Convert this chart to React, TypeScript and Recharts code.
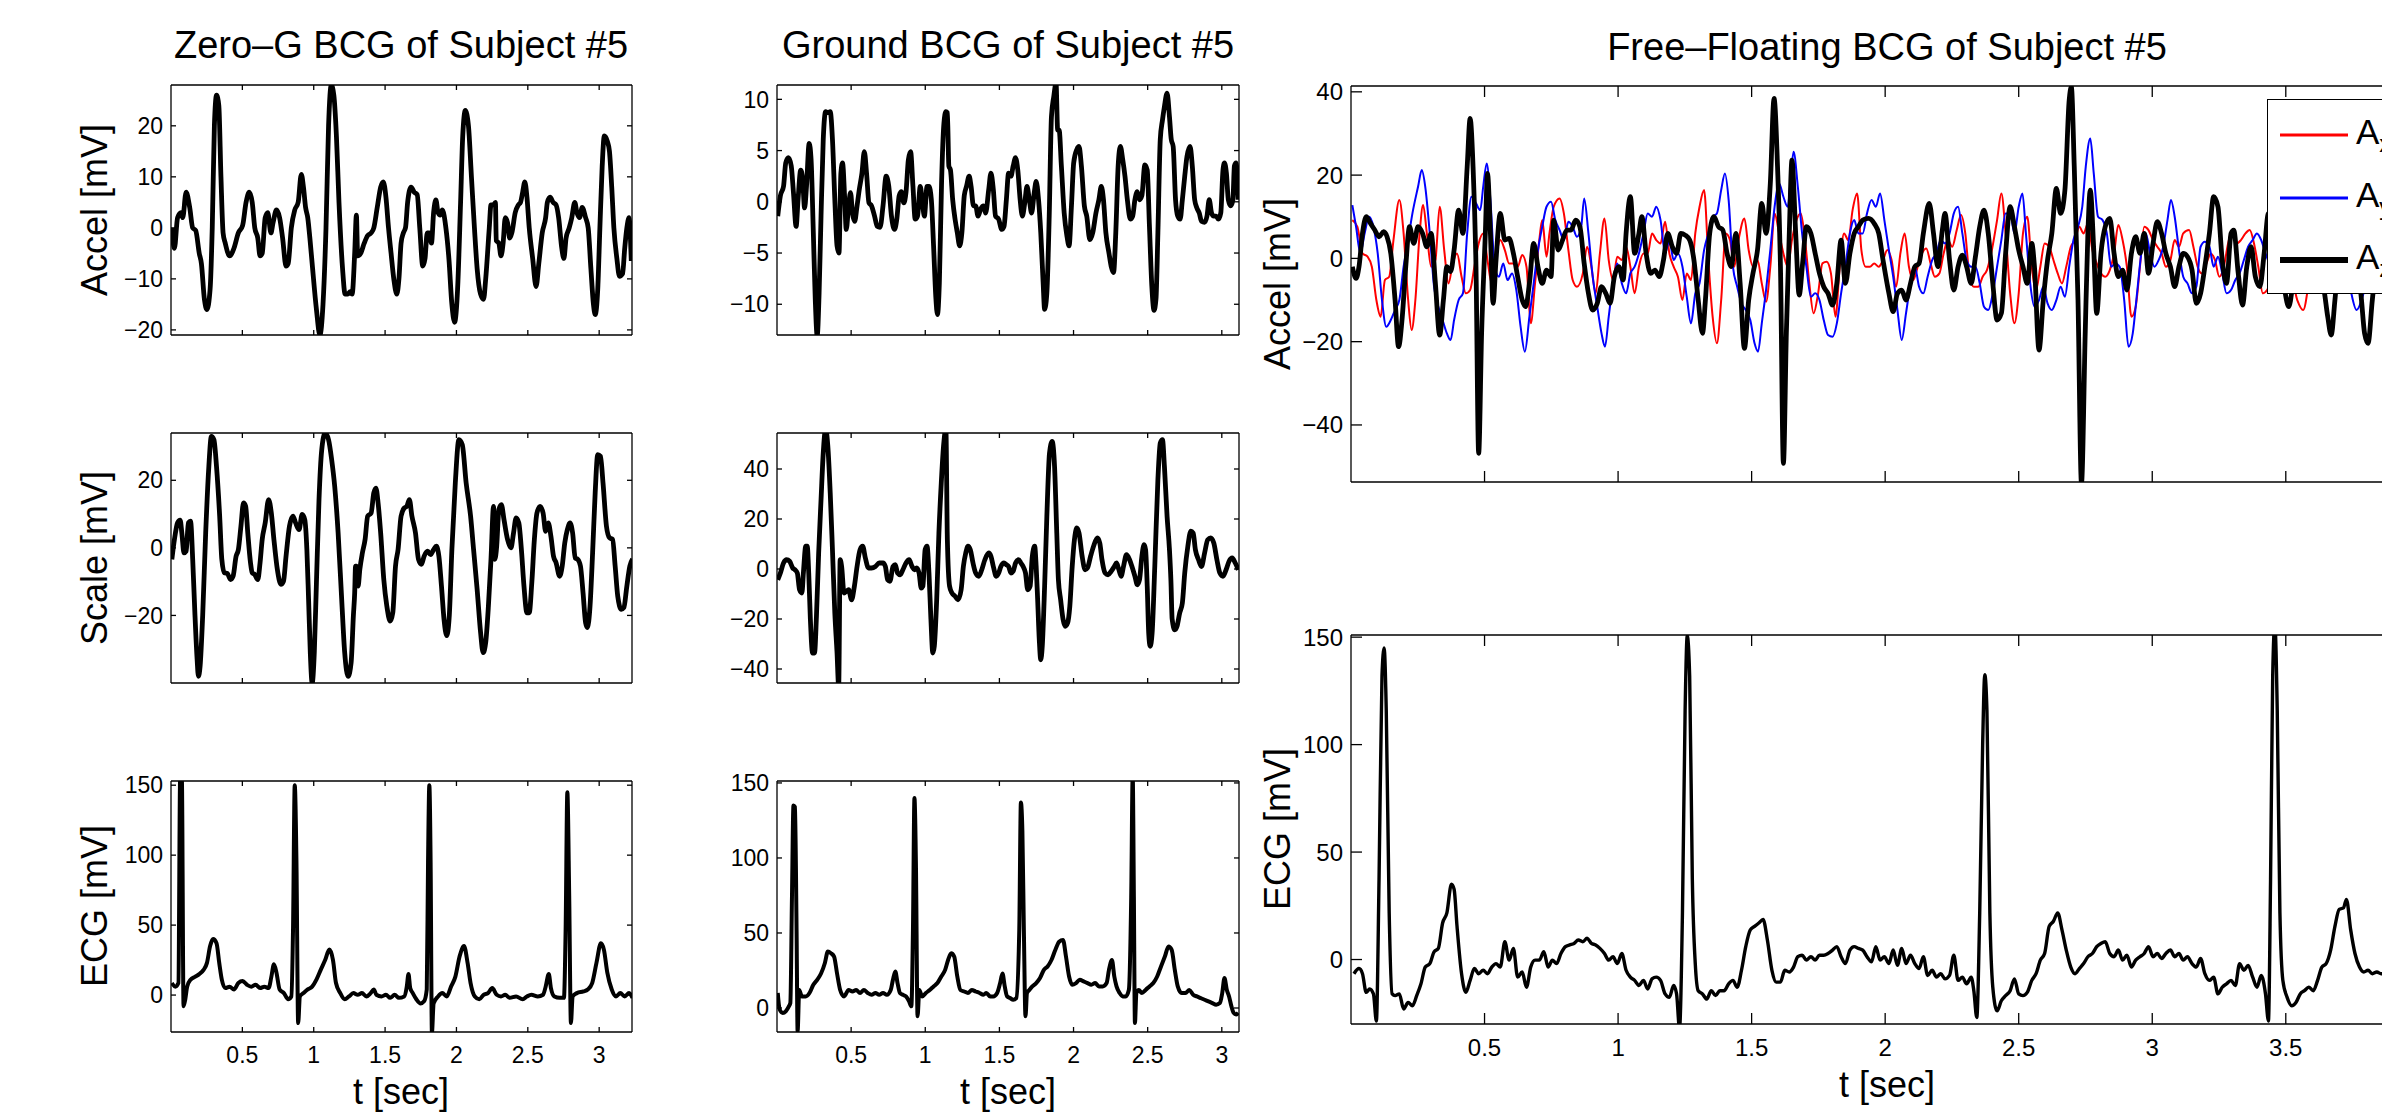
import { LineChart, Line, XAxis, YAxis, Legend } from 'recharts'

// ---- data: [t (sec), value (mV)] ----

const zeroGAccel: [number, number][] = [
  [0.006, 0], [0.024, -4], [0.046, 2], [0.07, 3], [0.082, 2], [0.106, 7], [0.131, 4], [0.152, 0], [0.173, -0.5],
  [0.198, -5], [0.213, -7], [0.234, -14], [0.252, -16], [0.274, -12], [0.289, 0], [0.304, 20], [0.319, 26],
  [0.335, 24], [0.35, 10], [0.365, -1], [0.38, -3], [0.411, -5.5], [0.441, -4], [0.472, -1], [0.502, 0.5],
  [0.526, 5], [0.548, 7], [0.569, 5], [0.587, 0], [0.608, -2], [0.624, -5.5], [0.639, -5], [0.66, 2], [0.678, 3],
  [0.7, -1], [0.715, 1], [0.739, 3.5], [0.761, 2], [0.782, -2], [0.806, -7.5], [0.821, -7], [0.843, 0],
  [0.867, 3.5], [0.891, 5], [0.913, 10.5], [0.928, 8], [0.943, 4], [0.958, 2], [0.973, -2], [0.989, -7],
  [1.019, -16], [1.043, -21], [1.065, -15], [1.086, 0], [1.104, 20], [1.123, 28], [1.141, 26], [1.159, 18],
  [1.177, 5], [1.202, -8], [1.22, -13], [1.238, -13], [1.256, -12.5], [1.269, -13], [1.287, -5], [1.299, 2.5],
  [1.308, -5.5], [1.329, -5], [1.354, -3], [1.378, -1.5], [1.402, -1], [1.421, 0], [1.445, 4], [1.469, 8],
  [1.488, 9], [1.506, 6], [1.524, 0], [1.542, -5], [1.561, -10], [1.582, -13], [1.597, -10], [1.612, -3],
  [1.628, -1], [1.643, 0], [1.658, 5], [1.682, 8], [1.704, 7], [1.725, 6.5], [1.743, 0], [1.764, -7.5],
  [1.78, -6], [1.795, -1], [1.81, -1], [1.825, -3], [1.84, 3], [1.856, 5.5], [1.871, 3], [1.886, 2.5],
  [1.901, 3.5], [1.926, 0], [1.947, -6], [1.968, -15], [1.987, -18.5], [2.008, -12], [2.029, 5], [2.044, 18],
  [2.062, 23], [2.084, 20], [2.105, 10], [2.126, 0], [2.145, -8], [2.169, -13], [2.19, -14], [2.205, -10],
  [2.23, 0], [2.242, 4.5], [2.26, 4.5], [2.273, 5], [2.279, -2.5], [2.297, -3], [2.312, -5.5], [2.327, -3],
  [2.342, 2], [2.358, 1], [2.373, -2], [2.388, -1], [2.412, 3], [2.434, 4.5], [2.449, 5], [2.464, 7],
  [2.479, 9], [2.494, 6], [2.51, 0], [2.534, -6], [2.558, -11.5], [2.577, -7], [2.601, -1], [2.625, 2],
  [2.637, 5], [2.656, 6], [2.677, 5], [2.698, 4.5], [2.716, 2], [2.738, -4], [2.753, -6], [2.768, -2],
  [2.79, 0], [2.808, 2], [2.829, 5], [2.844, 3], [2.863, 2], [2.881, 4], [2.905, 2], [2.923, 0], [2.942, -8],
  [2.96, -15], [2.972, -17], [2.99, -12], [3.005, 0], [3.021, 12], [3.036, 18], [3.057, 17], [3.072, 15],
  [3.088, 8], [3.103, 0], [3.124, -6], [3.142, -9.5], [3.164, -9], [3.179, -4], [3.194, 0], [3.209, 2], [3.225, -6.5],
]

const zeroGScale: [number, number][] = [
  [0.006, -3.4], [0.024, 2.5], [0.046, 7.4], [0.064, 8.2], [0.076, 4.4], [0.091, -1.5], [0.106, -1], [0.122, 7.4],
  [0.137, 7.9], [0.152, -3.4], [0.167, -19], [0.183, -33], [0.192, -38], [0.204, -35], [0.222, -20], [0.243, 4.4],
  [0.265, 24], [0.283, 33], [0.301, 32], [0.319, 24], [0.341, 9.4], [0.356, -3.4], [0.374, -7.4], [0.395, -7.6],
  [0.417, -9.4], [0.435, -8.4], [0.456, -2.5], [0.472, -0.5], [0.49, 6.4], [0.508, 13.3], [0.523, 12.3],
  [0.538, 4.4], [0.557, -4.4], [0.569, -7.4], [0.587, -7.9], [0.608, -9.4], [0.624, -4.4], [0.639, 2.5],
  [0.66, 7.4], [0.684, 14.3], [0.703, 10.3], [0.721, 2.5], [0.745, -6.4], [0.77, -10.8], [0.788, -9.9],
  [0.806, -2.5], [0.83, 6.4], [0.855, 9.4], [0.873, 7.4], [0.897, 5.4], [0.919, 9.9], [0.937, 8.4], [0.952, -0.5],
  [0.964, -15.3], [0.976, -31], [0.989, -40], [1.004, -31], [1.019, -10.3], [1.037, 14.3], [1.056, 29],
  [1.08, 34], [1.104, 32], [1.126, 26], [1.147, 18.2], [1.171, 4.4], [1.196, -15.3], [1.217, -31], [1.241, -38],
  [1.262, -34], [1.278, -20], [1.287, -13.3], [1.293, -5.4], [1.299, -5.4], [1.311, -11.3], [1.323, -6.4],
  [1.341, -1.5], [1.36, 2.5], [1.378, 9.4], [1.402, 10.3], [1.421, 16.3], [1.436, 17.7], [1.451, 13.3],
  [1.469, 4.4], [1.491, -9.4], [1.512, -17.2], [1.536, -21.7], [1.554, -19.2], [1.573, -5.4], [1.591, -0.5],
  [1.612, 9.4], [1.634, 11.8], [1.652, 12.3], [1.67, 14.3], [1.688, 9.4], [1.713, 4.4], [1.734, -3.4],
  [1.755, -4.9], [1.773, -2.5], [1.798, -1], [1.819, -2], [1.84, -0.5], [1.859, 0.5], [1.877, -2.5],
  [1.895, -11.3], [1.913, -21.2], [1.932, -26], [1.95, -20], [1.968, -0.5], [1.992, 19.2], [2.017, 32],
  [2.041, 30.5], [2.068, 19.2], [2.099, 9.4], [2.12, -0.5], [2.145, -12.3], [2.169, -25], [2.187, -31],
  [2.205, -28], [2.224, -17.2], [2.242, -3.4], [2.26, 12.3], [2.269, -3.4], [2.282, 0.5], [2.297, 11.3],
  [2.315, 12.8], [2.333, 8.4], [2.358, 2.5], [2.382, 0], [2.4, 4.4], [2.418, 8.9], [2.437, 7.4], [2.455, -0.5],
  [2.473, -11.3], [2.494, -19.2], [2.51, -19.2], [2.528, -10.3], [2.546, 2.5], [2.564, 10.3], [2.586, 12.3],
  [2.607, 10.3], [2.625, 4.9], [2.643, 7.4], [2.662, 3.4], [2.68, -2.5], [2.698, -4.4], [2.723, -8.4],
  [2.741, -5.4], [2.759, 1.5], [2.777, 5.4], [2.796, 7.4], [2.814, 4.4], [2.832, -3], [2.85, -3.4], [2.869, -5.4],
  [2.887, -13.3], [2.905, -22.2], [2.917, -23.6], [2.936, -17.2], [2.954, -1.5], [2.972, 16.3], [2.99, 27.6],
  [3.009, 27.1], [3.027, 19.2], [3.051, 6.4], [3.072, 3], [3.094, 2.5], [3.112, -5.4], [3.13, -14.3],
  [3.155, -18.2], [3.173, -17.7], [3.194, -11.3], [3.215, -5.4], [3.234, -3.3],
]

const zeroGEcg: [number, number][] = [
  [0.006, 8.6], [0.03, 6], [0.052, 8.6], [0.064, 154], [0.076, 154], [0.088, -8], [0.1, -3], [0.113, 6],
  [0.137, 11], [0.167, 13], [0.198, 15], [0.228, 18], [0.252, 23], [0.274, 35], [0.295, 40], [0.319, 37],
  [0.338, 23], [0.356, 11], [0.38, 5], [0.411, 6], [0.441, 4], [0.472, 8.6], [0.502, 10], [0.532, 7.4],
  [0.563, 6], [0.593, 7.4], [0.624, 5], [0.654, 6], [0.684, 5], [0.703, 13], [0.721, 22], [0.739, 16],
  [0.761, 4], [0.791, 1.4], [0.821, -3], [0.843, -1], [0.855, 47], [0.867, 150], [0.879, 95], [0.891, -20],
  [0.903, -1], [0.928, 1.4], [0.958, 4], [0.989, 6], [1.019, 11], [1.049, 18], [1.08, 25], [1.11, 32.5],
  [1.135, 25], [1.156, 8.6], [1.186, 1.4], [1.217, -3], [1.247, -1], [1.278, 1.4], [1.308, 0.2], [1.338, 1.4],
  [1.369, -1], [1.399, 1.4], [1.421, 4], [1.439, 0.2], [1.475, -1], [1.506, 0.2], [1.536, -2], [1.567, 0.2],
  [1.597, -2], [1.634, -1], [1.652, 6], [1.664, 15], [1.676, 5], [1.694, 1.4], [1.719, -3], [1.749, -6],
  [1.773, -4.5], [1.792, 4], [1.801, 95], [1.81, 150], [1.819, 95], [1.828, -27], [1.84, -6], [1.871, -1],
  [1.901, 1.4], [1.932, -1], [1.962, 6], [1.992, 13], [2.023, 28], [2.053, 35], [2.078, 23], [2.099, 8.6],
  [2.129, -1], [2.16, -3], [2.19, 0.2], [2.221, 1.4], [2.251, 5], [2.282, 0.2], [2.312, -1], [2.342, 0.2],
  [2.373, -2], [2.418, -1], [2.464, -3], [2.494, -1], [2.525, 0.2], [2.57, -1], [2.607, 0.2], [2.625, 6],
  [2.647, 15], [2.662, 5], [2.686, -1], [2.723, -2], [2.753, -2], [2.765, 47], [2.777, 145], [2.79, 71],
  [2.802, -20], [2.814, -1], [2.844, 1.4], [2.89, 2.6], [2.92, 4], [2.951, 8.6], [2.981, 23], [3.012, 37],
  [3.033, 32.5], [3.057, 16], [3.088, 4], [3.118, -1], [3.148, 1.4], [3.179, -1], [3.209, 1.4], [3.234, -2],
]

const groundAccel: [number, number][] = [
  [0.005, -1.4], [0.023, 0.6], [0.044, 1.5], [0.059, 3.8], [0.077, 4.3], [0.096, 3.5], [0.111, 0.9], [0.129, -2.4],
  [0.142, 0.2], [0.16, 3.1], [0.173, 2.2], [0.186, -0.6], [0.199, 1.5], [0.217, 5.7], [0.23, 4.1], [0.245, -3],
  [0.258, -9.5], [0.271, -13.1], [0.284, -8.9], [0.297, -1.4], [0.312, 6.1], [0.328, 8.8], [0.343, 8.7],
  [0.359, 8.8], [0.374, 6.1], [0.39, 0.2], [0.405, -4.3], [0.418, -5], [0.431, 2.8], [0.442, 3.8], [0.457, 0.2],
  [0.467, -2.7], [0.483, -0.4], [0.496, 0.9], [0.509, -1.1], [0.524, -1.9], [0.54, -0.4], [0.555, 1.2],
  [0.573, 2.8], [0.589, 4.9], [0.604, 2.8], [0.62, -0.1], [0.638, -0.4], [0.658, -1.4], [0.676, -2.4],
  [0.695, -2.5], [0.715, -0.4], [0.736, 2.5], [0.754, 1.5], [0.772, -1.4], [0.793, -2.7], [0.808, -1.7],
  [0.824, 0.6], [0.839, 1], [0.855, -0.1], [0.87, 0.9], [0.886, 4.1], [0.901, 4.9], [0.917, 1.5], [0.932, -1.7],
  [0.948, -1.4], [0.966, 1.5], [0.979, 0.2], [0.994, -1.4], [1.012, 1.5], [1.025, 1.5], [1.041, 0.2],
  [1.056, -4.3], [1.072, -9.5], [1.082, -11], [1.095, -7.9], [1.11, 1.9], [1.126, 7.7], [1.139, 8.8],
  [1.149, 8.7], [1.159, 3.5], [1.17, 3.1], [1.185, 0.2], [1.201, -1.7], [1.216, -3], [1.232, -4.3], [1.247, -3],
  [1.263, 0.6], [1.278, 1.5], [1.296, 2.5], [1.309, 1.5], [1.325, -0.4], [1.34, -0.4], [1.356, -1.4],
  [1.374, -0.7], [1.392, -0.4], [1.407, -1.1], [1.428, 1.2], [1.443, 2.8], [1.459, 1.2], [1.474, -1.4],
  [1.495, -1.7], [1.516, -2.7], [1.531, -2.4], [1.547, 0.2], [1.562, 2.8], [1.578, 2.5], [1.593, 3.5],
  [1.609, 4.3], [1.624, 3.1], [1.64, 0.2], [1.655, -1.4], [1.671, -0.1], [1.686, 1.5], [1.702, 0.2],
  [1.717, -1.1], [1.735, 0.9], [1.748, 2], [1.764, 0.2], [1.779, -3], [1.795, -7.9], [1.805, -10.5],
  [1.82, -8.9], [1.836, -1.4], [1.851, 8.3], [1.867, 10.3], [1.882, 11.6], [1.893, 7], [1.903, 7],
  [1.918, 3.5], [1.937, -1.1], [1.955, -3.3], [1.97, -4.3], [1.986, -0.4], [2.001, 3.8], [2.022, 5.1],
  [2.037, 5.4], [2.053, 3.5], [2.073, -0.4], [2.089, -1.4], [2.11, -3.7], [2.13, -3], [2.151, -1.1],
  [2.171, 0.2], [2.187, 1.5], [2.202, 0.2], [2.218, -3], [2.239, -5], [2.254, -6.3], [2.27, -6.9], [2.285, -3],
  [2.301, 3.5], [2.316, 5.4], [2.332, 4.1], [2.347, 2.5], [2.363, 0.2], [2.383, -1.7], [2.399, -1.4],
  [2.414, 0.2], [2.43, 1], [2.445, 0.2], [2.461, 0.6], [2.481, 3.6], [2.497, 3.1], [2.512, -2.4], [2.528, -8.2],
  [2.543, -10.6], [2.556, -9.5], [2.569, -3], [2.585, 6.1], [2.6, 8], [2.613, 9.3], [2.631, 10.6], [2.647, 8.3],
  [2.659, 6.1], [2.672, 5.4], [2.688, 0.2], [2.703, -1.4], [2.719, -1.7], [2.734, 0.2], [2.75, 2.5],
  [2.765, 4.4], [2.786, 5.4], [2.801, 3.5], [2.817, 0.2], [2.832, -0.6], [2.848, -1.1], [2.863, -1.9],
  [2.884, -2], [2.9, -1.4], [2.915, 0.2], [2.931, -1.1], [2.946, -1.4], [2.962, -1.4], [2.977, -1.7],
  [2.993, -1.1], [3.008, 3.1], [3.018, 3.8], [3.031, 2.8], [3.044, 0.2], [3.06, -0.4], [3.075, 0.2],
  [3.085, 3.5], [3.096, 3.8], [3.111, 0.2],
]

const groundScale: [number, number][] = [
  [0.005, -4.3], [0.023, -1.6], [0.044, 2.4], [0.065, 3.7], [0.085, 3.1], [0.106, 0.4], [0.121, -0.3],
  [0.137, -1.6], [0.152, -8.3], [0.168, -9.6], [0.178, -1.6], [0.194, 9.1], [0.204, 9.1], [0.214, -1.6],
  [0.225, -20], [0.24, -33.6], [0.253, -33.6], [0.266, -19], [0.281, 6.4], [0.297, 27.7], [0.312, 46.4],
  [0.328, 56], [0.343, 49], [0.359, 30.4], [0.374, 7.7], [0.39, -17.6], [0.405, -33.6], [0.416, -47],
  [0.426, 3.7], [0.436, 1], [0.452, -9.6], [0.467, -8.9], [0.483, -8.3], [0.503, -12.3], [0.522, -6.9],
  [0.54, 1], [0.56, 7.7], [0.578, 9.1], [0.596, 4.4], [0.617, 0.4], [0.638, 0.4], [0.664, 1], [0.689, 2.4],
  [0.715, 2.4], [0.731, 1], [0.746, -4.3], [0.762, -4.9], [0.782, 1], [0.798, 1.7], [0.813, -1.6],
  [0.831, -2.3], [0.849, -0.3], [0.87, 2.4], [0.891, 3.7], [0.911, 1], [0.927, -0.3], [0.942, 0.4],
  [0.958, -1.6], [0.973, -7.6], [0.984, -6.9], [0.999, 7.7], [1.012, 9.1], [1.025, -1.6], [1.038, -20],
  [1.051, -33.6], [1.061, -30.9], [1.077, -12.3], [1.092, 14.4], [1.108, 34.4], [1.123, 49], [1.139, 56],
  [1.149, 11.7], [1.164, -6.9], [1.18, -9.6], [1.201, -10.9], [1.221, -12.3], [1.242, -8.3], [1.257, 1],
  [1.273, 6.4], [1.288, 9.1], [1.304, 7.7], [1.322, 2.4], [1.34, -1.6], [1.361, -2.9], [1.381, -0.3],
  [1.402, 3.7], [1.428, 6.4], [1.443, 5.1], [1.459, 1], [1.479, -2.9], [1.495, -1.6], [1.51, 1], [1.531, 2.4],
  [1.547, 1.7], [1.562, 1], [1.578, -1.6], [1.593, -0.9], [1.609, 2.4], [1.629, 3.7], [1.645, 2.4],
  [1.66, 1], [1.676, -1.6], [1.691, -8.3], [1.707, -6.9], [1.722, 5.1], [1.738, 9.1], [1.748, 1],
  [1.758, -12.3], [1.769, -28.3], [1.779, -36.3], [1.789, -30.9], [1.805, -6.9], [1.82, 21], [1.838, 46.4],
  [1.856, 51], [1.872, 41], [1.887, 14.4], [1.898, -4.3], [1.913, -12.3], [1.929, -20], [1.944, -22.9],
  [1.96, -21.6], [1.975, -14.9], [1.991, 1], [2.006, 11.7], [2.022, 16.4], [2.037, 14.4], [2.058, 5.1],
  [2.078, -0.3], [2.094, 0.4], [2.115, 5.1], [2.135, 9.1], [2.161, 12.4], [2.177, 10.4], [2.192, 3.7],
  [2.213, -1.6], [2.233, -2.3], [2.254, -0.9], [2.275, 1], [2.29, 2.4], [2.306, -0.3], [2.321, -2.9],
  [2.337, 1], [2.357, 5.7], [2.378, 3.7], [2.394, 1], [2.414, -2.9], [2.43, -6.3], [2.445, -4.3], [2.461, 5.1],
  [2.476, 9.7], [2.486, 7.7], [2.497, -6.9], [2.507, -25.6], [2.517, -30.9], [2.53, -25.6], [2.548, 1],
  [2.569, 35.7], [2.585, 50.4], [2.6, 51.7], [2.613, 41], [2.631, 21], [2.647, 7.7], [2.657, -4.9],
  [2.665, -20], [2.683, -24.3], [2.698, -22.9], [2.716, -17.6], [2.734, -13.6], [2.75, -1.6], [2.771, 9.1],
  [2.791, 15.1], [2.807, 14.4], [2.822, 7.7], [2.843, 3.7], [2.863, 1], [2.884, 6.4], [2.905, 11.7],
  [2.925, 12.4], [2.946, 10.4], [2.967, 3.7], [2.987, -1.6], [3.008, -2.9], [3.029, -0.3], [3.049, 3.1],
  [3.07, 4.4], [3.091, 2.4], [3.111, -0.3],
]

const groundEcg: [number, number][] = [
  [0.005, 10], [0.018, -1], [0.039, -3.3], [0.059, -2.2], [0.08, 1.1], [0.09, 3.3], [0.101, 74], [0.111, 135],
  [0.121, 134], [0.132, 52], [0.139, -15.5], [0.15, 12], [0.168, 7.7], [0.194, 7.7], [0.219, 10], [0.245, 15.5],
  [0.271, 18.8], [0.297, 23], [0.323, 30], [0.343, 37.6], [0.364, 36.5], [0.385, 34.3], [0.405, 23], [0.426, 12],
  [0.452, 7.7], [0.483, 12], [0.509, 11], [0.534, 12], [0.56, 10], [0.586, 12], [0.612, 10], [0.638, 8.8],
  [0.664, 10], [0.689, 8.8], [0.715, 10], [0.741, 8.8], [0.767, 12], [0.782, 18.8], [0.798, 24.3],
  [0.813, 16.6], [0.829, 10], [0.849, 8.8], [0.87, 7.7], [0.891, 4.4], [0.906, 1.1], [0.917, 52], [0.927, 140],
  [0.937, 96], [0.948, -5.5], [0.96, 12], [0.979, 7.7], [1.004, 10], [1.03, 12], [1.056, 14.4], [1.082, 16.6],
  [1.108, 21], [1.134, 25.4], [1.154, 32], [1.175, 36.5], [1.195, 34.3], [1.216, 21], [1.237, 12], [1.263, 11],
  [1.288, 10], [1.314, 12], [1.34, 11], [1.366, 10], [1.392, 8.8], [1.412, 10], [1.438, 7.7], [1.459, 7.7],
  [1.485, 10], [1.505, 16.6], [1.521, 23], [1.536, 14.4], [1.552, 7.7], [1.572, 6.6], [1.593, 5.5],
  [1.614, 6.6], [1.634, 52], [1.645, 137], [1.655, 118], [1.665, 52], [1.676, -5.5], [1.686, 10], [1.702, 12],
  [1.722, 14.4], [1.748, 16.6], [1.774, 20], [1.8, 25.4], [1.825, 27.7], [1.851, 32], [1.877, 38.7],
  [1.903, 44.2], [1.929, 45.4], [1.949, 34.3], [1.97, 21], [1.991, 15.5], [2.017, 16.6], [2.042, 18.8],
  [2.068, 17.7], [2.094, 16.6], [2.12, 15.5], [2.146, 16.6], [2.171, 14.4], [2.197, 14.4], [2.223, 16.6],
  [2.239, 25.4], [2.259, 32], [2.275, 21], [2.29, 14.4], [2.311, 10], [2.332, 7.7], [2.352, 7.7], [2.373, 12],
  [2.389, 74], [2.399, 155], [2.407, 74], [2.414, -10], [2.424, 10], [2.44, 12], [2.461, 10], [2.486, 12],
  [2.512, 14.4], [2.538, 16.6], [2.564, 21], [2.59, 27.7], [2.616, 34.3], [2.641, 41], [2.662, 38.7],
  [2.683, 25.4], [2.703, 14.4], [2.729, 10], [2.755, 10], [2.781, 12], [2.807, 8.8], [2.832, 7.7], [2.858, 6.6],
  [2.884, 5.5], [2.91, 4.4], [2.936, 3.3], [2.962, 2.2], [2.987, 3.3], [3.003, 10], [3.018, 20], [3.034, 12],
  [3.049, 7.7], [3.065, 1.1], [3.08, -3.3], [3.096, -4.4], [3.111, -3.3],
]

const freeAx: [number, number][] = [
  [0.005, 9.2], [0.024, 7.6], [0.043, 1.2], [0.062, 0.4], [0.078, -2], [0.095, -10], [0.111, -14], [0.127, -5.2],
  [0.143, -4.4], [0.159, 4.4], [0.181, 14], [0.197, 6], [0.214, -10], [0.227, -17.2], [0.241, -10], [0.257, 6],
  [0.27, 12.8], [0.284, 6], [0.3, -2], [0.316, -0.4], [0.332, 12.4], [0.349, 2], [0.365, -6], [0.381, -1.2],
  [0.397, 1.2], [0.414, -4.4], [0.43, -8.4], [0.446, -7.6], [0.462, -2], [0.478, 3.6], [0.495, 6],
  [0.511, -0.4], [0.527, -6], [0.543, 0.4], [0.559, 4.4], [0.576, 2], [0.592, -1.2], [0.608, -1.2], [0.624, -2],
  [0.641, 0.8], [0.657, -2], [0.673, -15.6], [0.689, -6], [0.705, 4.4], [0.716, 9.2], [0.732, 0.4], [0.743, 6],
  [0.759, 12.4], [0.781, 14.4], [0.797, 10.8], [0.814, 2], [0.83, -5.2], [0.846, -6.8], [0.868, -3.6],
  [0.884, 2.8], [0.9, -2], [0.916, -8.4], [0.932, 1.2], [0.949, 9.6], [0.965, -0.4], [0.981, -5.2], [0.997, 0.4],
  [1.014, -0.4], [1.03, 2.8], [1.046, -2], [1.062, -8.4], [1.078, -2], [1.095, 1.2], [1.111, 1.2], [1.127, 6],
  [1.143, 4.4], [1.159, 3.6], [1.176, 8.8], [1.192, 1.2], [1.208, -2], [1.224, -4.4], [1.241, -10], [1.257, -3.6],
  [1.273, -5.2], [1.289, 6], [1.305, 12.4], [1.322, 16.4], [1.338, -0.4], [1.354, -14], [1.37, -20.4],
  [1.386, -10], [1.403, 6], [1.419, 4.4], [1.435, -2], [1.451, 4.4], [1.473, 9.6], [1.489, 2], [1.505, -2],
  [1.522, -0.4], [1.538, -6], [1.554, -10.4], [1.57, -2], [1.586, 10.8], [1.603, 6], [1.619, 1.2], [1.635, -2],
  [1.651, 4.4], [1.668, 9.2], [1.684, 10.8], [1.7, 4.4], [1.716, -6], [1.732, -13.2], [1.749, -8.4],
  [1.765, -1.2], [1.781, -0.8], [1.797, -3.6], [1.814, -14], [1.83, -2], [1.846, 6], [1.862, 4.4], [1.878, 11.6],
  [1.895, 15.6], [1.911, 2], [1.927, -2], [1.943, -2], [1.959, -1.2], [1.976, -2], [1.992, -0.4], [2.008, 2],
  [2.024, -0.4], [2.041, -6.8], [2.057, 1.2], [2.073, 6], [2.089, -2], [2.105, -5.2], [2.122, -2], [2.138, 1.2],
  [2.154, 2.4], [2.17, -1.2], [2.186, -4.4], [2.203, -3.6], [2.219, 1.2], [2.235, 4.4], [2.251, 2.8],
  [2.268, 6.8], [2.284, 10.4], [2.3, 6], [2.316, -4.4], [2.332, -6.8], [2.349, -6.8], [2.365, -4.4],
  [2.381, -2.8], [2.397, 1.2], [2.419, 9.2], [2.435, 15.6], [2.451, 6], [2.468, -8.4], [2.484, -15.6],
  [2.5, -8.4], [2.516, 6], [2.532, 10], [2.549, -2], [2.565, -7.6], [2.581, -2], [2.597, 3.6], [2.614, 2.8],
  [2.63, -0.4], [2.646, -3.6], [2.662, -6], [2.678, -2], [2.695, 2.8], [2.711, 4.4], [2.727, 7.6], [2.743, 6],
  [2.759, 8.4], [2.776, 2], [2.792, -1.2], [2.808, -3.6], [2.824, -4.4], [2.841, -2.8], [2.857, 1.2], [2.873, 8],
  [2.889, 4.4], [2.905, -2], [2.922, -14], [2.938, -11.6], [2.954, -2], [2.97, 7.6], [2.986, 6.8], [3.003, 4.4],
  [3.019, 2.8], [3.035, 1.2], [3.051, -2], [3.068, -0.4], [3.084, 4.4], [3.1, 2.8], [3.116, 6], [3.138, 6.8],
  [3.154, 2.8], [3.17, -2], [3.186, -3.6], [3.203, -1.2], [3.219, 1.2], [3.235, -0.4], [3.251, -4.4],
  [3.268, -2], [3.284, 3.6], [3.3, 6.8], [3.316, 3.6], [3.332, 4.4], [3.349, 6], [3.365, 6.8], [3.381, 3.6],
  [3.397, -2], [3.414, -8.4], [3.43, -7.6], [3.462, -2], [3.503, 1.2], [3.543, -10], [3.565, -12.4],
  [3.597, -2], [3.651, 2.8], [3.705, -2], [3.759, 1.2], [3.814, -3.6], [3.862, -0.4], [3.949, 1.2], [4.003, 0],
]

const freeAy: [number, number][] = [
  [0.005, 12.8], [0.019, 7.6], [0.035, 1.2], [0.051, 6], [0.068, 10], [0.084, 7.6], [0.1, 1.2], [0.116, -10],
  [0.132, -16.4], [0.149, -14.8], [0.165, -12.4], [0.181, -10], [0.197, -2], [0.214, 4.4], [0.23, 10.8],
  [0.251, 17.2], [0.265, 21.2], [0.278, 17.2], [0.295, 6], [0.311, -6.8], [0.327, -11.6], [0.343, -14.8],
  [0.359, -18], [0.373, -19.6], [0.386, -14.8], [0.403, -10], [0.419, -8.4], [0.435, 6], [0.451, 14.8],
  [0.468, 13.2], [0.484, 11.6], [0.495, 17.2], [0.508, 22.8], [0.522, 14], [0.538, -2], [0.554, -4.4],
  [0.57, -1.2], [0.586, -5.2], [0.603, -3.6], [0.619, -7.6], [0.635, -16.4], [0.651, -22.4], [0.668, -14],
  [0.684, -6], [0.7, 2], [0.716, 7.6], [0.732, 12.4], [0.749, 13.6], [0.765, 9.2], [0.781, 6.8], [0.797, 4.4],
  [0.814, 8.8], [0.83, 7.6], [0.846, 5.2], [0.862, 7.6], [0.873, 14.4], [0.889, 6], [0.905, -4.4],
  [0.922, -11.6], [0.938, -18], [0.951, -21.2], [0.965, -14], [0.981, -6], [0.997, -1.2], [1.014, -6],
  [1.03, -8.4], [1.046, -3.6], [1.062, -2], [1.078, 1.2], [1.095, 6], [1.111, 10.8], [1.127, 10], [1.143, 12.4],
  [1.159, 9.2], [1.176, 1.2], [1.192, 4.4], [1.208, -0.4], [1.224, 1.2], [1.241, -2], [1.257, -9.2],
  [1.273, -15.6], [1.289, -8.4], [1.305, -6], [1.322, 2], [1.338, 6], [1.354, 10], [1.37, 10.8], [1.386, 16.4],
  [1.4, 20.4], [1.414, 14], [1.43, -2], [1.446, -6.8], [1.462, -10.8], [1.478, -12.4], [1.495, -14.8],
  [1.511, -20.4], [1.524, -22.4], [1.538, -15.6], [1.554, -7.6], [1.57, 2], [1.586, 12.4], [1.603, 18],
  [1.619, 14.8], [1.635, 12.4], [1.646, 18.8], [1.657, 25.6], [1.673, 17.2], [1.689, 6], [1.705, -2],
  [1.722, -9.2], [1.738, -8.4], [1.754, -10], [1.77, -14.8], [1.786, -18.4], [1.803, -18.8], [1.819, -15.6],
  [1.835, -8.4], [1.851, -2], [1.868, 6], [1.884, 9.2], [1.9, 6], [1.916, 6], [1.932, 10.8], [1.949, 14],
  [1.965, 12.4], [1.981, 15.6], [1.997, 9.2], [2.014, 2], [2.03, -4.4], [2.046, -12.4], [2.062, -19.6],
  [2.078, -13.2], [2.095, -6], [2.111, -2], [2.127, -6.8], [2.143, -8.4], [2.159, -4.4], [2.176, -0.4],
  [2.192, 1.2], [2.208, 4.4], [2.224, 3.6], [2.241, 6], [2.257, 10.8], [2.273, 12.4], [2.289, 6], [2.305, -0.4],
  [2.322, -2], [2.338, -2], [2.354, -6], [2.37, -11.6], [2.386, -12.4], [2.403, -8.4], [2.419, -2], [2.435, 4.4],
  [2.451, 10.8], [2.468, 10.8], [2.484, 6], [2.5, 12.4], [2.514, 15.6], [2.527, 6], [2.543, -6], [2.559, -11.6],
  [2.576, -10], [2.592, -6.8], [2.608, -10.8], [2.624, -12.4], [2.641, -10], [2.657, -6.8], [2.673, -9.2],
  [2.689, -2], [2.705, 4.4], [2.722, 7.6], [2.738, 12.4], [2.751, 22], [2.768, 28.8], [2.781, 20.4], [2.797, 10],
  [2.814, 9.2], [2.83, 6], [2.846, -2], [2.862, -1.2], [2.878, -2], [2.895, -10], [2.911, -21.2], [2.927, -18],
  [2.943, -8.4], [2.959, 1.2], [2.976, 6], [2.992, 1.2], [3.008, -2], [3.024, -0.4], [3.041, 2.8], [3.057, 9.2],
  [3.07, 14], [3.084, 10], [3.1, 2], [3.116, -4.4], [3.132, -6], [3.149, -8.4], [3.165, -6.8], [3.181, 2.8],
  [3.197, 4], [3.214, 2.8], [3.23, -2], [3.246, 0.4], [3.262, -3.6], [3.278, -8.4], [3.295, -7.6], [3.311, -5.2],
  [3.327, -3.6], [3.343, -0.4], [3.359, 2.8], [3.376, 4.4], [3.392, 6], [3.408, 4.4], [3.424, 1.2], [3.462, -3.6],
  [3.516, -0.4], [3.57, 1.2], [3.624, -3.6], [3.678, -2], [3.732, -5.2], [3.765, -12.4], [3.8, -6.8],
  [3.841, -2], [3.895, -0.4], [3.949, -2],
]

const freeAz: [number, number][] = [
  [0.005, -2], [0.019, -4.8], [0.03, -2], [0.043, 6], [0.057, 10], [0.073, 8.4], [0.089, 6.8], [0.105, 5.2],
  [0.122, 6.4], [0.135, 5.2], [0.149, 1.2], [0.165, -10], [0.178, -21.2], [0.192, -14], [0.205, -2], [0.219, 7.6],
  [0.235, 3.6], [0.251, 7.6], [0.268, 6], [0.284, 2.8], [0.3, 6], [0.316, -6], [0.332, -18.4], [0.346, -10],
  [0.359, -2], [0.373, -3.2], [0.386, 2], [0.403, 11.6], [0.419, 6], [0.435, 22], [0.446, 33.6], [0.457, 22],
  [0.468, -2], [0.478, -46.8], [0.489, -18], [0.503, 6], [0.511, 20.4], [0.522, 6], [0.532, -10.8],
  [0.543, -0.4], [0.559, 10.8], [0.576, 4.4], [0.592, 4.8], [0.608, 1.2], [0.624, -4.4], [0.641, -10],
  [0.654, -11.6], [0.668, -6], [0.684, 3.6], [0.7, -2], [0.716, -6], [0.732, -2.8], [0.749, -4.4], [0.759, 9.2],
  [0.776, 2], [0.792, 4.4], [0.808, 6.8], [0.824, 6.8], [0.841, 9.2], [0.857, 7.6], [0.873, -1.2], [0.889, -8.4],
  [0.905, -12.4], [0.922, -10.8], [0.938, -6.8], [0.954, -8.4], [0.97, -10.8], [0.986, -4.4], [1.003, -2],
  [1.019, -5.2], [1.03, 6], [1.046, 14.8], [1.062, 1.2], [1.078, 6], [1.089, 10], [1.105, 1.2], [1.122, -3.6],
  [1.138, -2.8], [1.154, -4.4], [1.17, -0.4], [1.186, 6], [1.203, 2.8], [1.219, 1.2], [1.235, 6], [1.251, 5.6],
  [1.268, 4.4], [1.284, -0.4], [1.3, -10], [1.316, -18], [1.327, -10], [1.343, 6], [1.359, 10], [1.376, 7.6],
  [1.392, 6.8], [1.408, 1.2], [1.424, -2], [1.441, 6], [1.457, -6], [1.473, -21.6], [1.489, -10], [1.505, -3.6],
  [1.522, 2], [1.538, 13.2], [1.554, 6], [1.57, 18], [1.584, 38.4], [1.597, 22], [1.608, -2], [1.619, -49.2],
  [1.63, -18], [1.641, 6], [1.651, 23.6], [1.665, 6], [1.678, -8.8], [1.692, -0.4], [1.705, 7.6], [1.722, 6],
  [1.738, 1.2], [1.754, -3.6], [1.77, -6.8], [1.786, -8.4], [1.803, -11.2], [1.819, -6], [1.835, 4.4],
  [1.851, -6], [1.868, 1.2], [1.884, 6], [1.9, 7.6], [1.916, 9.2], [1.938, 9.6], [1.959, 8.4], [1.976, 6],
  [1.992, -0.4], [2.014, -8.4], [2.03, -12.8], [2.046, -8.4], [2.062, -7.6], [2.078, -10], [2.095, -6],
  [2.111, -2], [2.127, -1.2], [2.143, 6], [2.165, 13.2], [2.181, 6], [2.197, -2], [2.214, 6.8], [2.224, 10.8],
  [2.241, -0.4], [2.257, -7.6], [2.273, -2], [2.289, 0.8], [2.305, -2], [2.322, -6], [2.338, 0.4], [2.354, 7.6],
  [2.37, 11.6], [2.386, 6], [2.403, -6], [2.419, -14.8], [2.435, -13.2], [2.451, 1.2], [2.468, 12.4],
  [2.484, 7.6], [2.5, 2], [2.516, -2], [2.532, -6], [2.549, 3.6], [2.559, -2], [2.576, -22], [2.592, -10],
  [2.608, -0.4], [2.624, 6], [2.641, 16.8], [2.657, 10.8], [2.673, 16.4], [2.689, 38], [2.697, 41.2],
  [2.708, 22], [2.722, -10], [2.735, -54], [2.749, -18], [2.759, 6], [2.768, 16.4], [2.781, 2], [2.792, -13.2],
  [2.808, 1.2], [2.824, 7.6], [2.841, 9.6], [2.857, 1.2], [2.873, -4.4], [2.889, -2.8], [2.905, -7.6],
  [2.922, 1.2], [2.938, 5.2], [2.954, 1.2], [2.97, 6], [2.986, -3.6], [3.003, 3.6], [3.019, 8.8], [3.035, 6],
  [3.051, 1.2], [3.068, -2], [3.084, -6.8], [3.1, -2], [3.116, 1.2], [3.132, 0.4], [3.149, -2.8], [3.165, -10.8],
  [3.181, -8.4], [3.197, -2], [3.214, 6], [3.23, 14.8], [3.246, 12.4], [3.262, -0.4], [3.278, -6], [3.295, 6],
  [3.305, 6.8], [3.322, -3.6], [3.338, -11.2], [3.354, -2], [3.37, 2.8], [3.386, -4.4], [3.403, -6.8],
  [3.419, 1.2], [3.435, 10.8], [3.451, 6], [3.468, -0.4], [3.489, -5.2], [3.511, -11.6], [3.532, -3.6],
  [3.554, 1.2], [3.576, 4.4], [3.597, -0.4], [3.619, -3.6], [3.641, -6.8], [3.657, -14], [3.67, -18.4],
  [3.684, -10], [3.7, 1.2], [3.716, 6], [3.732, 1.2], [3.749, -0.4], [3.765, -2], [3.781, -8.4], [3.795, -18],
  [3.808, -20.4], [3.824, -10], [3.841, -0.4], [3.857, 2.8], [3.895, 1.2], [3.935, -6], [3.976, -0.4], [4.003, 0.4],
]

const freeEcg: [number, number][] = [
  [0.011, -6.6], [0.03, -4.2], [0.043, -6.6], [0.057, -15.3], [0.07, -13.7], [0.084, -16], [0.095, -28.6],
  [0.105, 37.4], [0.116, 132], [0.124, 145], [0.132, 116], [0.143, 21.7], [0.154, -16], [0.165, -16.8],
  [0.181, -16], [0.197, -23], [0.214, -20], [0.23, -21.5], [0.246, -16.8], [0.262, -11.3], [0.278, -3.5],
  [0.295, -1.9], [0.311, 3.6], [0.327, 5.2], [0.343, 17], [0.359, 21.7], [0.376, 35], [0.386, 32.7],
  [0.397, 15.4], [0.414, -6.6], [0.43, -15.3], [0.446, -9.7], [0.462, -4.2], [0.478, -6.6], [0.495, -5],
  [0.511, -6.6], [0.527, -3.5], [0.543, -1.9], [0.559, -3.5], [0.576, 8.3], [0.592, -0.3], [0.608, 5.2],
  [0.624, -8.2], [0.641, -5.8], [0.657, -12.9], [0.673, -3.5], [0.689, -0.3], [0.705, -0.3], [0.722, 3.6],
  [0.738, -3.5], [0.754, -0.3], [0.77, -1.9], [0.786, 2.8], [0.803, 6], [0.819, 6.8], [0.835, 7.5], [0.851, 9.1],
  [0.868, 8.3], [0.884, 9.9], [0.9, 7.5], [0.916, 6.8], [0.932, 5.2], [0.949, 2.8], [0.965, -0.3], [0.981, 1.3],
  [0.997, -1.9], [1.014, 2.8], [1.03, -5], [1.046, -8.2], [1.062, -9.7], [1.078, -12.1], [1.095, -9.7],
  [1.111, -13.7], [1.127, -9], [1.143, -8.2], [1.159, -9.7], [1.176, -16], [1.192, -17.6], [1.208, -12.1],
  [1.219, -16], [1.23, -32], [1.241, 21.7], [1.251, 116], [1.259, 150.6], [1.268, 132], [1.278, 37.4],
  [1.289, -1.9], [1.3, -14.5], [1.316, -16], [1.332, -18.4], [1.349, -14.5], [1.365, -16.8], [1.381, -14.5],
  [1.397, -14.5], [1.414, -11.3], [1.43, -9.7], [1.446, -12.9], [1.462, -5], [1.478, 6], [1.495, 13.8],
  [1.511, 15.4], [1.527, 17], [1.543, 18.6], [1.559, 9.1], [1.576, -5], [1.592, -10.5], [1.608, -10.5],
  [1.624, -5], [1.641, -5.8], [1.657, -3.5], [1.673, 1.3], [1.689, 2], [1.705, -0.3], [1.722, 1.3],
  [1.738, -0.3], [1.754, 2], [1.77, 2], [1.786, 2.8], [1.803, 4.4], [1.819, 6], [1.835, 1.3], [1.851, -1.9],
  [1.868, 4.4], [1.884, 6], [1.9, 5.2], [1.916, 4.4], [1.932, 1.3], [1.949, -1.1], [1.965, 6], [1.981, -0.3],
  [1.997, 1.3], [2.014, -1.9], [2.03, 4.4], [2.046, -2.7], [2.062, 5.2], [2.078, -1.9], [2.095, 2],
  [2.111, -1.9], [2.127, -4.2], [2.143, 1.3], [2.159, -7.4], [2.176, -5], [2.192, -8.2], [2.208, -6.6],
  [2.224, -9], [2.241, -7.4], [2.257, 2], [2.273, -9.7], [2.289, -8.2], [2.305, -11.3], [2.322, -8.2],
  [2.332, -14.5], [2.343, -27], [2.354, 21.7], [2.365, 100], [2.373, 132.5], [2.381, 116], [2.392, 21.7],
  [2.403, -12.9], [2.419, -23.9], [2.435, -19.2], [2.451, -16.8], [2.468, -14.5], [2.484, -9], [2.5, -16],
  [2.516, -16.8], [2.532, -15.3], [2.549, -9.7], [2.565, -6.6], [2.581, -0.3], [2.597, 2.8], [2.614, 15.4],
  [2.63, 17.8], [2.646, 21.7], [2.662, 13.8], [2.678, 4.4], [2.695, -3.5], [2.711, -6.6], [2.727, -4.2],
  [2.743, -1.9], [2.759, 1.3], [2.776, 2.8], [2.792, 6], [2.808, 7.5], [2.824, 8.3], [2.841, 2.8], [2.857, 1.3],
  [2.873, 4.4], [2.889, -0.3], [2.905, 2], [2.922, -3.5], [2.938, -0.3], [2.954, 1.3], [2.97, 2.8], [2.986, 6],
  [3.003, 1.3], [3.019, 2.8], [3.035, 0.5], [3.051, 2.8], [3.068, 4.4], [3.084, 1.3], [3.1, 2.8], [3.116, -0.3],
  [3.132, 1.3], [3.149, -1.9], [3.165, -3.5], [3.181, 0.5], [3.197, -6.6], [3.214, -9.7], [3.23, -8.2],
  [3.246, -16], [3.262, -12.9], [3.278, -11.3], [3.295, -9.7], [3.311, -12.1], [3.327, -1.9], [3.343, -5],
  [3.359, -2.7], [3.376, -8.2], [3.392, -12.9], [3.408, -7.4], [3.424, -16], [3.435, -28.6], [3.443, 37.4],
  [3.451, 132], [3.459, 156], [3.468, 116], [3.478, 21.7], [3.489, -9.7], [3.505, -17.6], [3.522, -21.5],
  [3.538, -20], [3.554, -16], [3.57, -14.5], [3.586, -12.9], [3.603, -14.5], [3.619, -9.7], [3.635, -3.5],
  [3.651, -1.9], [3.668, 4.4], [3.684, 15.4], [3.7, 23.3], [3.716, 24], [3.727, 28], [3.743, 13.8],
  [3.759, 2.8], [3.776, -3.5], [3.792, -5.8], [3.808, -5], [3.824, -6.6], [3.841, -5.8], [3.857, -6.6],
  [3.922, -5], [4.003, -3.5],
]

const sideTicks = [0.5, 1, 1.5, 2, 2.5, 3]
const freeTicks = [0.5, 1, 1.5, 2, 2.5, 3, 3.5, 4]

// ---- chart pieces ----

type Series = { name: string; points: [number, number][]; color: string; width: number }

const toRows = (pts: [number, number][]) => pts.map(([t, v]) => ({ t, v }))
const fmtY = (v: number) => String(v).replace('-', '\u2212')
const blank = () => ''

function LegendBox({ series }: { series: Series[] }) {
  const rows = [35, 98, 160]
  return (
    <div style={{ position: 'relative', width: 160, height: 195, border: '1.5px solid #000', background: '#fff', boxSizing: 'border-box' }}>
      {series.map((s, i) => (
        <div key={s.name} style={{ position: 'absolute', left: 12, top: rows[i] - 20, height: 40, display: 'flex', alignItems: 'center' }}>
          <svg width={68} height={10}>
            <line x1={0} x2={68} y1={5} y2={5} stroke={s.color} strokeWidth={s.width + 1} />
          </svg>
          <span style={{ fontSize: 35, marginLeft: 8, color: '#000', whiteSpace: 'nowrap' }}>
            A<sub style={{ fontSize: 24 }}>{s.name}</sub>
          </span>
        </div>
      ))}
    </div>
  )
}

function Panel(props: {
  left: number; top: number; w: number; h: number; xMax: number; yDomain: [number, number]
  yTicks: number[]; xTicks: number[]; showX?: boolean; tickLen: number; fontSize: number
  series: Series[]; legend?: boolean
}) {
  const { left, top, w, h, xMax, yDomain, yTicks, xTicks, showX, tickLen, fontSize, series, legend } = props
  const tickStyle = { fill: '#000', fontSize }
  return (
    <div style={{ position: 'absolute', left: left - 80, top: top - 20 }}>
      <LineChart width={w + 100} height={h + 70} margin={{ top: 19, right: 19, bottom: 0, left: 0 }}>
        <XAxis xAxisId="b" type="number" dataKey="t" domain={[0, xMax]} ticks={xTicks} allowDataOverflow
          height={50} stroke="#000" strokeWidth={1.3} tickSize={-tickLen} tickMargin={tickLen + 15}
          tick={tickStyle} tickFormatter={showX ? undefined : blank} interval={0} />
        <XAxis xAxisId="t" orientation="top" type="number" dataKey="t" domain={[0, xMax]} ticks={xTicks}
          allowDataOverflow height={1} stroke="#000" strokeWidth={1.3} tickSize={-tickLen} tickFormatter={blank} interval={0} />
        <YAxis yAxisId="l" type="number" domain={yDomain} ticks={yTicks} allowDataOverflow width={80}
          stroke="#000" strokeWidth={1.3} tickSize={-tickLen} tickMargin={tickLen + 8} tick={tickStyle}
          tickFormatter={fmtY} interval={0} />
        <YAxis yAxisId="r" orientation="right" type="number" domain={yDomain} ticks={yTicks} allowDataOverflow
          width={1} stroke="#000" strokeWidth={1.3} tickSize={-tickLen} tickFormatter={blank} interval={0} />
        {series.map((s) => (
          <Line key={s.name} xAxisId="b" yAxisId="l" data={toRows(s.points)} dataKey="v" name={s.name}
            type="monotone" stroke={s.color} strokeWidth={s.width} dot={false} activeDot={false}
            isAnimationActive={false} />
        ))}
        {legend && (
          <Legend layout="vertical" align="center" verticalAlign="middle"
            wrapperStyle={{ left: 996, top: 33, width: 160, height: 195 }}
            content={() => <LegendBox series={series} />} />
        )}
      </LineChart>
    </div>
  )
}

const black = (name: string, points: [number, number][], width = 4.8): Series => ({ name, points, color: '#000', width })

export default function App() {
  const label = { fontSize: 36, fill: '#000' }
  return (
    <div style={{ position: 'fixed', left: 0, top: 0, width: 2382, height: 1113, overflow: 'hidden', background: '#fff', fontFamily: '"Liberation Sans", Arial, Helvetica, sans-serif' }}>
      <Panel left={171} top={85} w={461} h={250} xMax={3.23} yDomain={[-21, 28]} yTicks={[-20, -10, 0, 10, 20]}
        xTicks={sideTicks} tickLen={5} fontSize={23} series={[black('acc', zeroGAccel)]} />
      <Panel left={171} top={433} w={461} h={250} xMax={3.23} yDomain={[-40, 34]} yTicks={[-20, 0, 20]}
        xTicks={sideTicks} tickLen={5} fontSize={23} series={[black('scale', zeroGScale)]} />
      <Panel left={171} top={781} w={461} h={251} xMax={3.23} yDomain={[-26.4, 153]} yTicks={[0, 50, 100, 150]}
        xTicks={sideTicks} showX tickLen={5} fontSize={23} series={[black('ecg', zeroGEcg, 4)]} />

      <Panel left={777} top={85} w={462} h={250} xMax={3.116} yDomain={[-13, 11.4]} yTicks={[-10, -5, 0, 5, 10]}
        xTicks={sideTicks} tickLen={5} fontSize={23} series={[black('acc', groundAccel)]} />
      <Panel left={777} top={433} w={462} h={250} xMax={3.116} yDomain={[-45.6, 54.4]} yTicks={[-40, -20, 0, 20, 40]}
        xTicks={sideTicks} tickLen={5} fontSize={23} series={[black('scale', groundScale)]} />
      <Panel left={777} top={781} w={462} h={251} xMax={3.116} yDomain={[-16, 151.3]} yTicks={[0, 50, 100, 150]}
        xTicks={sideTicks} showX tickLen={5} fontSize={23} series={[black('ecg', groundEcg, 4)]} />

      <Panel left={1351} top={86} w={1071} h={396} xMax={4.01} yDomain={[-53.7, 41.4]} yTicks={[-40, -20, 0, 20, 40]}
        xTicks={freeTicks} tickLen={11} fontSize={24} legend
        series={[
          { name: 'x', points: freeAx, color: '#ff0000', width: 2 },
          { name: 'y', points: freeAy, color: '#0000ff', width: 2 },
          { name: 'z', points: freeAz, color: '#000', width: 4.8 },
        ]} />
      <Panel left={1351} top={635} w={1071} h={389} xMax={4.01} yDomain={[-30, 151]} yTicks={[0, 50, 100, 150]}
        xTicks={freeTicks} showX tickLen={11} fontSize={24} series={[black('ecg', freeEcg, 3.4)]} />

      <svg width={2382} height={1113} style={{ position: 'absolute', left: 0, top: 0, pointerEvents: 'none' }}>
        <g fontSize={38} textAnchor="middle" fill="#000">
          <text x={401} y={58}>Zero–G BCG of Subject #5</text>
          <text x={1008} y={58}>Ground BCG of Subject #5</text>
          <text x={1887} y={60}>Free–Floating BCG of Subject #5</text>
        </g>
        <g {...label} textAnchor="middle">
          <text transform="translate(107,210) rotate(-90)">Accel [mV]</text>
          <text transform="translate(107,558) rotate(-90)">Scale [mV]</text>
          <text transform="translate(107,906) rotate(-90)">ECG [mV]</text>
          <text transform="translate(1290,284) rotate(-90)">Accel [mV]</text>
          <text transform="translate(1290,829) rotate(-90)">ECG [mV]</text>
          <text x={401} y={1104}>t [sec]</text>
          <text x={1008} y={1104}>t [sec]</text>
          <text x={1887} y={1097}>t [sec]</text>
        </g>
      </svg>
    </div>
  )
}
